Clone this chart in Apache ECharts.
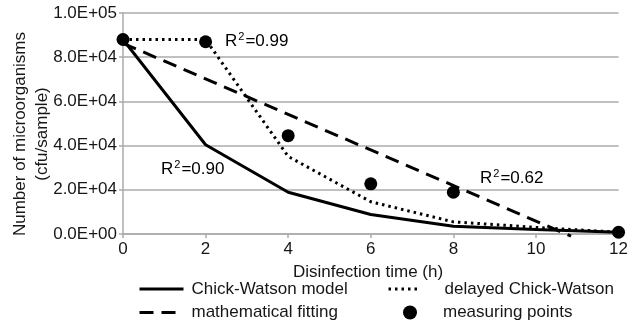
<!DOCTYPE html>
<html>
<head>
<meta charset="utf-8">
<script src="https://cdn.jsdelivr.net/npm/echarts@6/dist/echarts.min.js"></script>
<style>html,body{margin:0;padding:0;background:#fff;}#c{width:631px;height:326px;}</style>
</head>
<body>
<div id="c"></div>
<script>
// Data
const hours = [0, 2, 4, 6, 8, 10, 12];
const chickWatson = [88000, 40400, 18900, 8800, 3500, 2000, 800];
const delayedChickWatson = [88000, 88000, 35100, 14600, 5500, 3000, 800];
const fittingHours = [0, 10.85];
const fittingValues = [86300, -1000];
const measureHours = [0, 2, 4, 6, 8, 12];
const measureValues = [88000, 87000, 44500, 22700, 18900, 800];
const yTickLabels = ['0.0E+00', '2.0E+04', '4.0E+04', '6.0E+04', '8.0E+04', '1.0E+05'];
const xTickLabels = ['0', '2', '4', '6', '8', '10', '12'];
const r2Labels = ['0.99', '0.90', '0.62'];

const FONT = "'Liberation Sans', Arial, sans-serif";
const FS = 17;
const TXT = '#161616';
const GRID = '#ababab';

const pairs = (xs, ys) => xs.map((x, i) => [x, ys[i]]);

const chart = echarts.init(document.getElementById('c'), null, {renderer: 'canvas'});

function r2Text(v) { return '{n|R}{s|2}{n|=' + v + '}'; }
const r2Rich = {
  n: {fontSize: 17, fontFamily: FONT, color: TXT, lineHeight: 20},
  s: {fontSize: 11, fontFamily: FONT, color: TXT, lineHeight: 20, verticalAlign: 'top', padding: [0, 1, 0, 1]}
};
const noSym = {opacity: 0};
const legendText = (pad) => ({color: TXT, fontSize: FS, fontFamily: FONT, lineHeight: 20, padding: [0, 0, 0, pad]});

const option = {
  animation: false,
  backgroundColor: '#fff',
  grid: {left: 123, right: 4, top: 13, bottom: 92, containLabel: false},
  xAxis: {
    type: 'value', min: 0, max: 12, interval: 2,
    axisLine: {show: true, onZero: false, lineStyle: {color: GRID, width: 1.5}},
    axisTick: {show: true, length: 4, lineStyle: {color: GRID, width: 1.5}},
    splitLine: {show: false},
    axisLabel: {
      color: TXT, fontSize: FS, fontFamily: FONT, margin: 7,
      formatter: (v) => xTickLabels[Math.round(v / 2)]
    }
  },
  yAxis: {
    type: 'value', min: 0, max: 100000, interval: 20000,
    axisLine: {show: true, lineStyle: {color: GRID, width: 1.5}},
    axisTick: {show: true, length: 4, lineStyle: {color: GRID, width: 1.5}},
    splitLine: {show: true, lineStyle: {color: GRID, width: 1.5}},
    axisLabel: {
      color: TXT, fontSize: FS, fontFamily: FONT, margin: 6,
      formatter: (v) => yTickLabels[Math.round(v / 20000)]
    }
  },
  legend: [
    {
      orient: 'vertical', left: 138, top: 279, padding: 0,
      itemWidth: 44, itemHeight: 14, itemGap: 3.5,
      lineStyle: {width: 3},
      textStyle: legendText(3),
      data: [
        {name: 'Chick-Watson model', itemStyle: noSym},
        {name: 'mathematical fitting', itemStyle: noSym}
      ]
    },
    {
      orient: 'vertical', left: 387, top: 279, padding: 0,
      itemWidth: 32, itemHeight: 14,
      lineStyle: {width: 3},
      textStyle: legendText(19),
      data: [{name: 'delayed Chick-Watson', itemStyle: noSym}]
    },
    {
      orient: 'vertical', left: 403, top: 302.5, padding: 0,
      itemWidth: 46, itemHeight: 14,
      textStyle: legendText(5),
      data: [{name: 'measuring points'}]
    }
  ],
  series: [
    {
      name: 'Chick-Watson model', type: 'line', data: pairs(hours, chickWatson),
      showSymbol: false, symbol: 'none', color: '#000',
      lineStyle: {color: '#000', width: 3, type: 'solid'}, z: 3
    },
    {
      name: 'delayed Chick-Watson', type: 'line', data: pairs(hours, delayedChickWatson),
      showSymbol: false, symbol: 'none', color: '#000',
      lineStyle: {color: '#000', width: 3, type: [2.5, 4], cap: 'butt'}, z: 3
    },
    {
      name: 'mathematical fitting', type: 'line', data: pairs(fittingHours, fittingValues),
      showSymbol: false, symbol: 'none', color: '#000', clip: false,
      lineStyle: {color: '#000', width: 3, type: [14, 8]}, z: 3
    },
    {
      name: 'measuring points', type: 'scatter', data: pairs(measureHours, measureValues),
      symbol: 'circle', symbolSize: 13, color: '#000', itemStyle: {color: '#000', opacity: 1}, z: 4
    }
  ],
  graphic: [
    {
      type: 'text', x: 31, y: 134, rotation: Math.PI / 2,
      style: {
        text: 'Number of microorganisms\n(cfu/sample)', fill: TXT, font: FS + 'px ' + FONT,
        align: 'center', verticalAlign: 'middle', lineHeight: 22
      }
    },
    {
      type: 'text', x: 368, y: 272,
      style: {text: 'Disinfection time (h)', fill: TXT, font: FS + 'px ' + FONT, align: 'center', verticalAlign: 'middle'}
    },
    {type: 'text', x: 225, y: 31, style: {text: r2Text(r2Labels[0]), rich: r2Rich}},
    {type: 'text', x: 161, y: 159, style: {text: r2Text(r2Labels[1]), rich: r2Rich}},
    {type: 'text', x: 480, y: 168, style: {text: r2Text(r2Labels[2]), rich: r2Rich}}
  ]
};
chart.setOption(option);
</script>
</body>
</html>
